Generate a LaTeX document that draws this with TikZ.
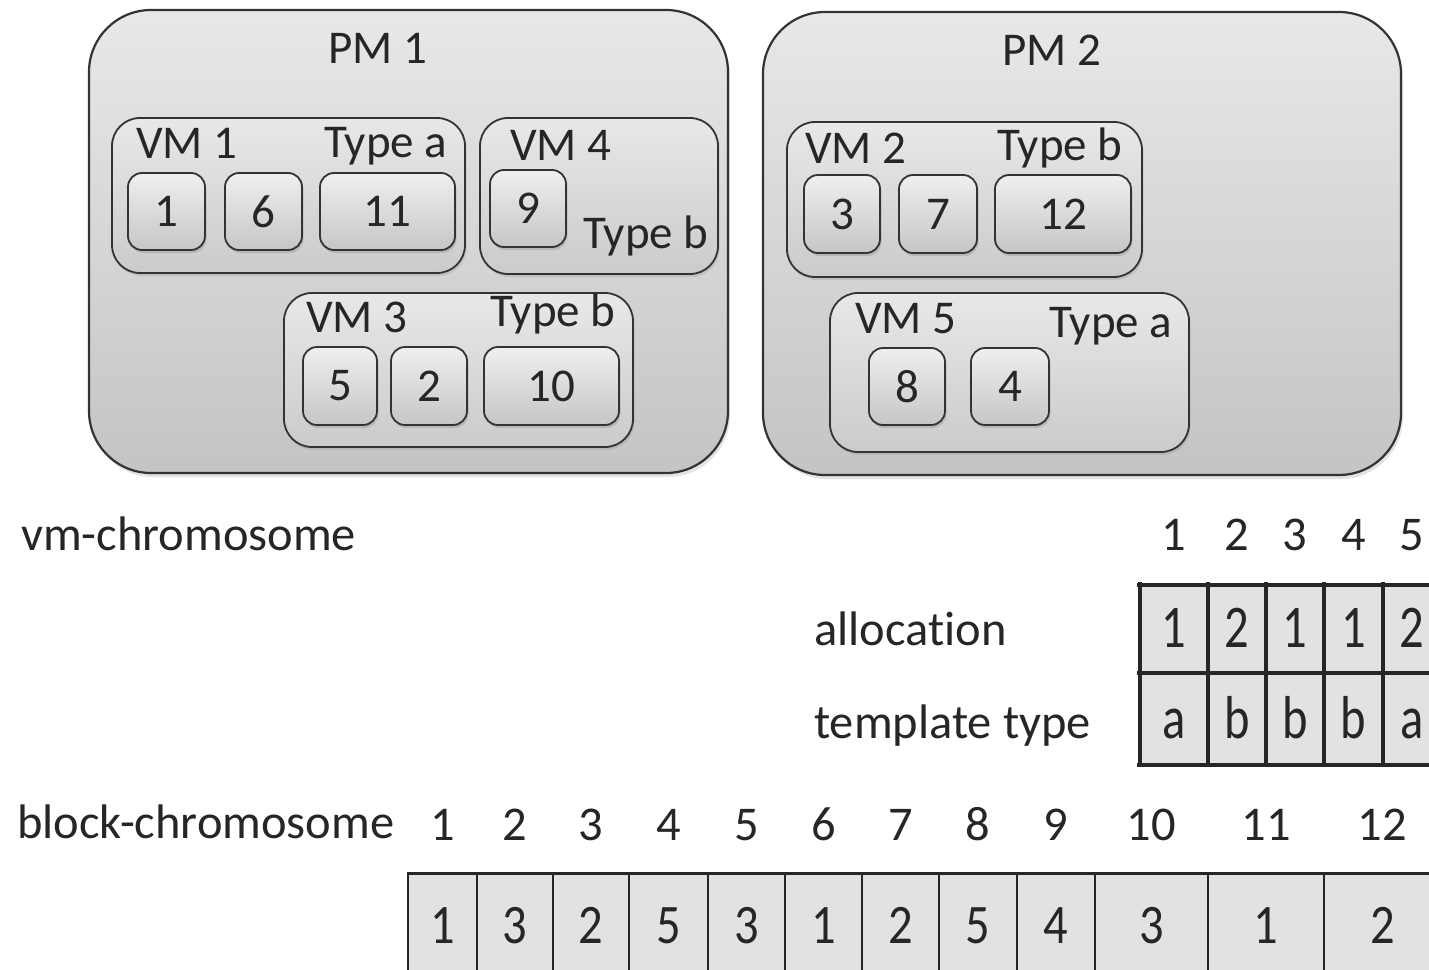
\documentclass[tikz,border=0pt]{standalone}
\usepackage{fontspec}
\setmainfont{Carlito}[Ligatures={NoCommon}]
\usetikzlibrary{shadows}

\definecolor{edge}{HTML}{333333}
\definecolor{pmtop}{HTML}{E8E8E8}
\definecolor{pmbot}{HTML}{C4C4C4}
\definecolor{vmtop}{HTML}{E8E8E8}
\definecolor{vmbot}{HTML}{CBCBCB}
\definecolor{bktop}{HTML}{EFEFEF}
\definecolor{bkbot}{HTML}{C6C6C6}
\definecolor{celfill}{HTML}{E1E2E4}

\newcommand\txt{\fontsize{47}{56}\selectfont}
\newcommand\txtb{\fontsize{48.5}{58}\selectfont}
\newcommand\stretchA[1]{\scalebox{1}[1.25]{#1}}
\newcommand\stretchB[1]{\scalebox{1}[1.15]{#1}}

\tikzset{
  x=1pt, y=-1pt,
  pmbox/.style={draw=edge, line width=2.2pt, rounded corners=62pt,
    top color=pmtop, bottom color=pmbot, inner sep=0pt, outer sep=0pt,
    drop shadow={opacity=0.22, shadow xshift=2pt, shadow yshift=-4pt}},
  vmbox/.style={draw=edge, line width=1.8pt, rounded corners=28pt,
    top color=vmtop, bottom color=vmbot, inner sep=0pt, outer sep=0pt,
    drop shadow={opacity=0.22, shadow xshift=1.5pt, shadow yshift=-3pt}},
  blk/.style={draw=edge, line width=1.8pt, rounded corners=14pt,
    top color=bktop, bottom color=bkbot, inner sep=0pt, outer sep=0pt,
    font=\txt, text=black!85,
    drop shadow={opacity=0.3, shadow xshift=1.5pt, shadow yshift=-3pt}},
  lbl/.style={anchor=base west, inner sep=0pt, font=\txt, text=black!85},
  lblb/.style={anchor=base west, inner sep=0pt, font=\txtb, text=black!85},
  ctr/.style={anchor=base, inner sep=0pt, font=\txt, text=black!85},
  ctrb/.style={anchor=base, inner sep=0pt, font=\txtb, text=black!85},
  tblA/.style={draw=black!85, line width=3.2pt},
  tblB/.style={draw=black!85, line width=2.6pt},
}

\begin{document}
\begin{tikzpicture}
\clip (0,0) rectangle (1429,969);
\fill[white] (0,0) rectangle (1429,969);

% ---------- physical machine 1 ----------
\node[pmbox, minimum width=639pt, minimum height=463pt] (pm1) at (408.5,241.5) {};
\node[ctr] (pm1t) at (378,63) {PM 1};

\node[vmbox, minimum width=353pt, minimum height=155pt] (vm1) at (288.5,195.5) {};
\node[lbl] (vm1n) at (136,158) {VM 1};
\node[lbl] (vm1t) at (324,157) {Type a};
\node[blk, minimum width=77pt, minimum height=77pt] (b1) at (166.5,211.5) {1};
\node[blk, minimum width=77pt, minimum height=77pt] (b6) at (263.5,211.5) {6};
\node[blk, minimum width=135pt, minimum height=77pt] (b11) at (387.5,211.5) {11};

\node[vmbox, minimum width=238pt, minimum height=156pt] (vm4) at (599,196) {};
\node[lbl] (vm4n) at (510,160) {VM 4};
\node[lbl] (vm4t) at (583,248) {Type b};
\node[blk, minimum width=76pt, minimum height=77pt] (b9) at (528,208.5) {9};

\node[vmbox, minimum width=349pt, minimum height=154pt] (vm3) at (458.5,370) {};
\node[lbl] (vm3n) at (306,332) {VM 3};
\node[lbl] (vm3t) at (490,326) {Type b};
\node[blk, minimum width=74pt, minimum height=78pt] (b5) at (340,386) {5};
\node[blk, minimum width=76pt, minimum height=78pt] (b2) at (429,386) {2};
\node[blk, minimum width=135pt, minimum height=78pt] (b10) at (551.5,386) {10};

% ---------- physical machine 2 ----------
\node[pmbox, minimum width=638pt, minimum height=463pt] (pm2) at (1082,243.5) {};
\node[ctr] (pm2t) at (1052,65) {PM 2};

\node[vmbox, minimum width=355pt, minimum height=155pt] (vm2) at (964.5,199.5) {};
\node[lbl] (vm2n) at (805,163) {VM 2};
\node[lbl] (vm2t) at (997,160) {Type b};
\node[blk, minimum width=76pt, minimum height=78pt] (b3) at (842,214) {3};
\node[blk, minimum width=78pt, minimum height=78pt] (b7) at (938,214) {7};
\node[blk, minimum width=136pt, minimum height=78pt] (b12) at (1063,214) {12};

\node[vmbox, minimum width=359pt, minimum height=159pt] (vm5) at (1009.5,372.5) {};
\node[lbl] (vm5n) at (855,333) {VM 5};
\node[lbl] (vm5t) at (1049,337) {Type a};
\node[blk, minimum width=76pt, minimum height=77pt] (b8) at (907,386.5) {8};
\node[blk, minimum width=78pt, minimum height=77pt] (b4) at (1010,386.5) {4};

% ---------- vm-chromosome ----------
\node[lblb] (vmc) at (21,550) {vm-chromosome};
\node[lblb] (alloc) at (814,645) {allocation};
\node[lblb] (ttype) at (814,738) {template type};

\fill[celfill] (1140,585) rectangle (1450,765);
\foreach \y in {585,673,765}
  \draw[tblA] (1137,\y) -- (1450,\y);
\foreach \x in {1140,1208,1266,1324,1383,1441}
  \draw[tblA] (\x,582) -- (\x,766.6);

\foreach \l/\r/\a/\t [count=\i] in
  {1140/1208/1/a, 1208/1266/2/b, 1266/1324/1/b, 1324/1383/1/b, 1383/1441/2/a} {
  \pgfmathsetmacro\cx{(\l+\r)/2}
  \node[ctrb] (vh\i) at (\cx,550) {\i};
  \node[ctrb] (al\i) at (\cx,647) {\stretchA{\a}};
  \node[ctrb] (tt\i) at (\cx,738) {\stretchA{\t}};
}

% ---------- block-chromosome ----------
\node[lblb] (bkc) at (17,838) {block-chromosome};

\fill[celfill] (408,873) rectangle (1450,980);
\draw[tblB, line width=3pt] (406.7,873) -- (1450,873);
\foreach \x in {408,477,553,629,708,785,862,939,1017,1095,1208,1324,1441}
  \draw[tblB] (\x,873) -- (\x,980);

\foreach \l/\r/\v [count=\i] in
  {408/477/1, 477/553/3, 553/629/2, 629/708/5, 708/785/3, 785/862/1,
   862/939/2, 939/1017/5, 1017/1095/4, 1095/1208/3, 1208/1324/1, 1324/1441/2} {
  \pgfmathsetmacro\cx{(\l+\r)/2}
  \node[ctrb] (bh\i) at (\cx,840) {\i};
  \node[ctrb] (bc\i) at (\cx,943) {\stretchB{\v}};
}
\end{tikzpicture}
\end{document}
